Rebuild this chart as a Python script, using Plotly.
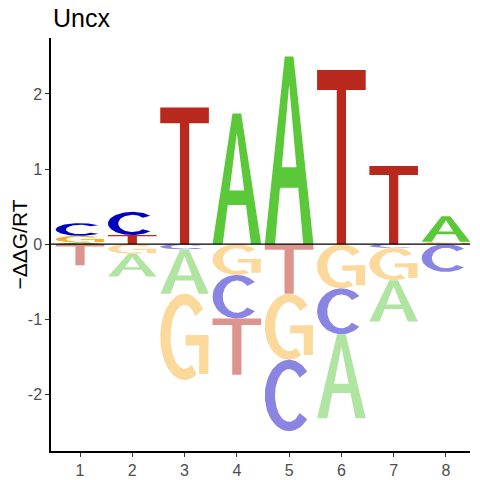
import numpy as np
import plotly.graph_objects as go

# energy logo for Uncx: signed -ddG/RT contribution of each base per position
positions = [1, 2, 3, 4, 5, 6, 7, 8]
energy_A = [0.02, -0.30, -0.59, 1.74, 2.50, -1.12, -0.55, 0.34]
energy_C = [0.17, 0.31, -0.07, -0.58, -0.95, -0.61, -0.05, -0.37]
energy_G = [0.09, -0.13, -1.15, -0.41, -0.88, -0.59, -0.43, 0.03]
energy_T = [-0.28, 0.12, 1.82, -0.75, -0.66, 2.32, 1.04, 0.00]

bases = ["A", "C", "G", "T"]
above_colors = {"A": "#5BC83A", "C": "#0000BF", "G": "#F5AE2C", "T": "#B8281C"}
below_colors = {"A": "#B0E4A1", "C": "#8A84E2", "G": "#FAD99B", "T": "#DB948E"}

LETTER_W = 0.93
# the page body has an 8px margin, so the figure is drawn 8px smaller
PAGE_PAD = 8
W = H = 480 - PAGE_PAD


def ring(a0, a1, tx, ty, n=80):
    t = np.radians(np.linspace(a0, a1, n))
    ou = 0.5 + 0.5 * np.cos(t)
    ov = 0.5 + 0.5 * np.sin(t)
    iu = 0.5 + (0.5 - tx) * np.cos(t[::-1])
    iv = 0.5 + (0.5 - ty) * np.sin(t[::-1])
    return np.concatenate([ou, iu]), np.concatenate([ov, iv])


def rect(u0, u1, v0, v1):
    return np.array([u0, u1, u1, u0]), np.array([v0, v0, v1, v1])


def glyph(base):
    """letter outline(s) in a unit box"""
    if base == "T":
        return [(np.array([0, 1, 1, 0.595, 0.595, 0.405, 0.405, 0]),
                 np.array([1, 1, 0.885, 0.885, 0, 0, 0.885, 0.885]))]
    if base == "A":
        t, top, va = 0.21, 0.09, 0.85
        b0, b1 = 0.30, 0.41

        def inner_l(v):
            return t + (0.5 - t) * v / va

        u = [0, t, inner_l(b0), 1 - inner_l(b0), 1 - t, 1, 0.5 + top, 0.5,
             0.5, 1 - inner_l(b1), inner_l(b1), 0.5, 0.5, 0.5 - top]
        v = [0, 0, b0, b0, 0, 0, 1, 1,
             va, b1, b1, va, 1, 1]
        return [(np.array(u), np.array(v))]
    if base == "C":
        return [ring(42, 318, 0.21, 0.13)]
    if base == "G":
        return [ring(40, 300, 0.21, 0.13),
                rect(0.8, 0.99, 0.07, 0.52),
                rect(0.52, 0.99, 0.40, 0.52)]
    return []


energies = {"A": energy_A, "C": energy_C, "G": energy_G, "T": energy_T}

fig = go.Figure()

for i, pos in enumerate(positions):
    vals = [(b, energies[b][i]) for b in bases if energies[b][i] != 0]
    ups = sorted([p for p in vals if p[1] > 0], key=lambda p: p[1])
    downs = sorted([p for p in vals if p[1] < 0], key=lambda p: -p[1])
    stacks = []
    y = 0.0
    for b, e in ups:
        stacks.append((b, y, y + e, above_colors[b]))
        y += e
    y = 0.0
    for b, e in downs:
        stacks.append((b, y + e, y, below_colors[b]))
        y += e
    for b, y0, y1, col in stacks:
        for u, v in glyph(b):
            xs = pos - LETTER_W / 2 + LETTER_W * u
            ys = y0 + (y1 - y0) * v
            fig.add_trace(go.Scatter(
                x=np.append(xs, xs[0]), y=np.append(ys, ys[0]),
                mode="lines", fill="toself", fillcolor=col,
                line=dict(width=0, color=col), hoverinfo="skip",
                showlegend=False))

fig.add_shape(type="line", xref="paper", x0=0, x1=1, yref="y", y0=0, y1=0,
              line=dict(color="black", width=1.3), layer="above")

fig.update_layout(
    width=W, height=H,
    margin=dict(l=51 - PAGE_PAD, r=10, t=38 - PAGE_PAD, b=29),
    plot_bgcolor="white", paper_bgcolor="white",
    font=dict(family="Liberation Sans, Arial, sans-serif"),
    title=dict(text="Uncx", x=(53 - PAGE_PAD) / W, xref="container",
               xanchor="left", y=1 - (18.7 - PAGE_PAD) / H, yref="container",
               yanchor="middle", font=dict(size=25, color="black")),
)
fig.update_xaxes(
    range=[0.445, 8.46], tickvals=positions,
    ticktext=[str(p) for p in positions], automargin=False,
    showgrid=False, zeroline=False, showline=True, linecolor="black",
    linewidth=1.5, ticks="outside", ticklen=4, tickwidth=1.2,
    tickcolor="#333333", tickfont=dict(size=16, color="#4D4D4D"),
)
fig.update_yaxes(
    range=[-2.755, 2.745], tickvals=[-2, -1, 0, 1, 2],
    ticktext=["-2", "-1", "0", "1", "2"], automargin=False,
    showgrid=False, zeroline=False, showline=True, linecolor="black",
    linewidth=1.5, ticks="outside", ticklen=4, tickwidth=1.2,
    tickcolor="#333333", tickfont=dict(size=16, color="#4D4D4D"),
    title=dict(text="\u2212\u0394\u0394G/RT", standoff=6,
               font=dict(size=21, color="black")),
)

fig.write_html("out.html")
